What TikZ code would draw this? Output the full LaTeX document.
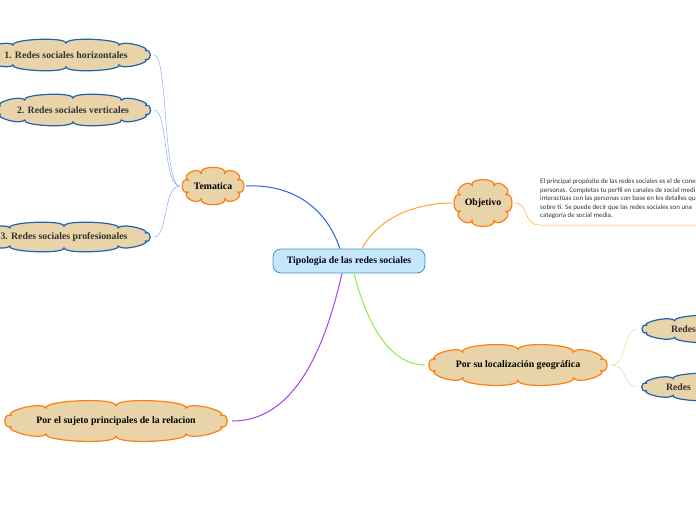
\documentclass[tikz,border=0pt]{standalone}
\usepackage{fontspec}
\setmainfont{Liberation Serif}
\newfontfamily\descfont{Carlito}
\usetikzlibrary{calc}
\pgfdeclarelayer{background}
\pgfsetlayers{background,main}
\definecolor{cloudfill}{HTML}{E8D4A8}
\definecolor{corange}{HTML}{FF7F0F}
\definecolor{cblue}{HTML}{1E62B0}
\definecolor{ctext}{HTML}{333333}
\definecolor{boxfill}{HTML}{C6E7F9}
\definecolor{boxdraw}{HTML}{3A94D0}
\definecolor{lblue}{HTML}{2C5CF2}
\definecolor{lblue2}{HTML}{8EA8FF}
\definecolor{lorange}{HTML}{FFA42B}
\definecolor{lgreen}{HTML}{8CEB44}
\definecolor{lgreen2}{HTML}{BDF294}
\definecolor{lpurple}{HTML}{A43FF0}
% #1 style, #2 node, #3 a, #4 b, #5 puffs, #6 bulge
\newcommand\puffcloud[6]{%
  \begin{pgfonlayer}{background}
  \draw[#1, shift={(#2.center)}]
    ({#3*sx(-180/#5)},{#4*sy(-180/#5)})
    \foreach \i in {1,...,#5} {
      .. controls ({(#3+#6)*sx((\i-1.5)*360/#5)},{(#4+#6)*sy((\i-1.5)*360/#5)})
      and ({(#3+#6)*sx((\i-0.5)*360/#5)},{(#4+#6)*sy((\i-0.5)*360/#5)})
      .. ({#3*sx((\i-0.5)*360/#5)},{#4*sy((\i-0.5)*360/#5)})
    } -- cycle;
  \end{pgfonlayer}}
\begin{document}
\begin{tikzpicture}[x=1pt,y=-1pt,
  declare function={
    sx(\t)=(cos(\t)<0?-1:1)*pow(abs(cos(\t))+0.0001,0.85);
    sy(\t)=(sin(\t)<0?-1:1)*pow(abs(sin(\t))+0.0001,0.85);
  },
  cnode/.style={rectangle, draw=none, inner sep=0pt,
    font=\bfseries\fontsize{9.8}{11}\selectfont},
  orangecloud/.style={draw=corange, fill=cloudfill, line width=1.2pt, line join=round},
  bluecloud/.style={draw=cblue, fill=cloudfill, line width=1.2pt, line join=round},
  centerbox/.style={rectangle, rounded corners=8pt, draw=boxdraw, fill=boxfill, line width=0.8pt,
    minimum width=152pt, minimum height=24pt, inner sep=0pt, text=black!85!blue,
    font=\bfseries\fontsize{9.8}{11}\selectfont},
  desc/.style={align=left, inner sep=0pt, text=ctext, font=\descfont\fontsize{6.9}{8.5}\selectfont},
  mainline/.style={line width=1pt},
  subline/.style={line width=0.5pt}
]
\useasboundingbox (0,0) rectangle (696,520);

% nodes
\node[centerbox] (c) at (349,261) {Tipologia de las redes sociales};
\node[cnode, text=black, minimum width=66pt, minimum height=40pt] (tem) at (213,186) {Tematica};
\node[cnode, text=ctext, minimum width=176pt, minimum height=34pt] (h1) at (66,55) {1. Redes sociales horizontales};
\node[cnode, text=ctext, minimum width=162pt, minimum height=34pt] (h2) at (73,110) {2. Redes sociales verticales};
\node[cnode, text=ctext, minimum width=180pt, minimum height=32pt] (h3) at (64,237) {3. Redes sociales profesionales};
\node[cnode, text=black, minimum width=62pt, minimum height=50pt] (obj) at (483,203) {Objetivo};
\node[desc, anchor=north west] (d) at (540,179) {El principal propósito de las redes sociales es el de cone\\
personas. Completas tu perfil en canales de social medi\\
interactúas con las personas con base en los detalles qu\\
sobre ti. Se puede decir que las redes sociales son una\\
categoría de social media.};
\node[cnode, text=black, minimum width=186pt, minimum height=44pt] (loc) at (518,365) {Por su localización geográfica};
\node[cnode, text=ctext, minimum width=186pt, minimum height=30pt, text width=120pt, align=left] (r1) at (731,329) {Redes};
\node[cnode, text=ctext, minimum width=176pt, minimum height=30pt, text width=120pt, align=left] (r2) at (726,387) {Redes};
\node[cnode, text=black, minimum width=232pt, minimum height=44pt] (suj) at (116,421) {Por el sujeto principales de la relacion};

% cloud outlines
\puffcloud{orangecloud}{tem}{26.25}{13.25}{8}{9}
\puffcloud{orangecloud}{obj}{24.25}{18.25}{8}{9}
\puffcloud{bluecloud}{h1}{82.75}{11.75}{10}{7}
\puffcloud{bluecloud}{h2}{75.75}{11.75}{10}{7}
\puffcloud{bluecloud}{h3}{84.75}{10.75}{10}{7}
\puffcloud{orangecloud}{loc}{86.25}{15.25}{10}{9}
\puffcloud{bluecloud}{r1}{87.75}{9.75}{10}{7}
\puffcloud{bluecloud}{r2}{82.75}{9.75}{10}{7}
\puffcloud{orangecloud}{suj}{109.25}{15.25}{10}{9}

\coordinate (ulA) at (540,225);
\coordinate (ulB) at (700,225);

% connectors
\draw[mainline, lblue] ($(c.north)+(-9,0)$) .. controls (325,205) and (290,184) .. (tem.east);
\draw[subline, lblue2] (tem.west) .. controls (163,186) and (168,55) .. (h1.east);
\draw[subline, lblue2] (tem.west) .. controls (163,186) and (168,110) .. (h2.east);
\draw[subline, lblue2] (tem.west) .. controls (163,186) and (168,237) .. (h3.east);

\draw[mainline, lorange] ($(c.north)+(13,0)$) .. controls (380,215) and (420,203) .. (obj.west);
\draw[subline, lorange] (obj.east) .. controls (530,203) and (522,225) .. (ulA) -- (ulB);

\draw[mainline, lgreen] ($(c.south)+(5,0)$) .. controls (370,335) and (395,365) .. (loc.west);
\draw[subline, lgreen2] (loc.east) .. controls (628,365) and (622,329) .. (r1.west);
\draw[subline, lgreen2] (loc.east) .. controls (628,365) and (622,387) .. (r2.west);

\draw[mainline, lpurple] ($(c.south)+(-7,0)$) .. controls (320,370) and (285,421) .. (suj.east);
\end{tikzpicture}
\end{document}
